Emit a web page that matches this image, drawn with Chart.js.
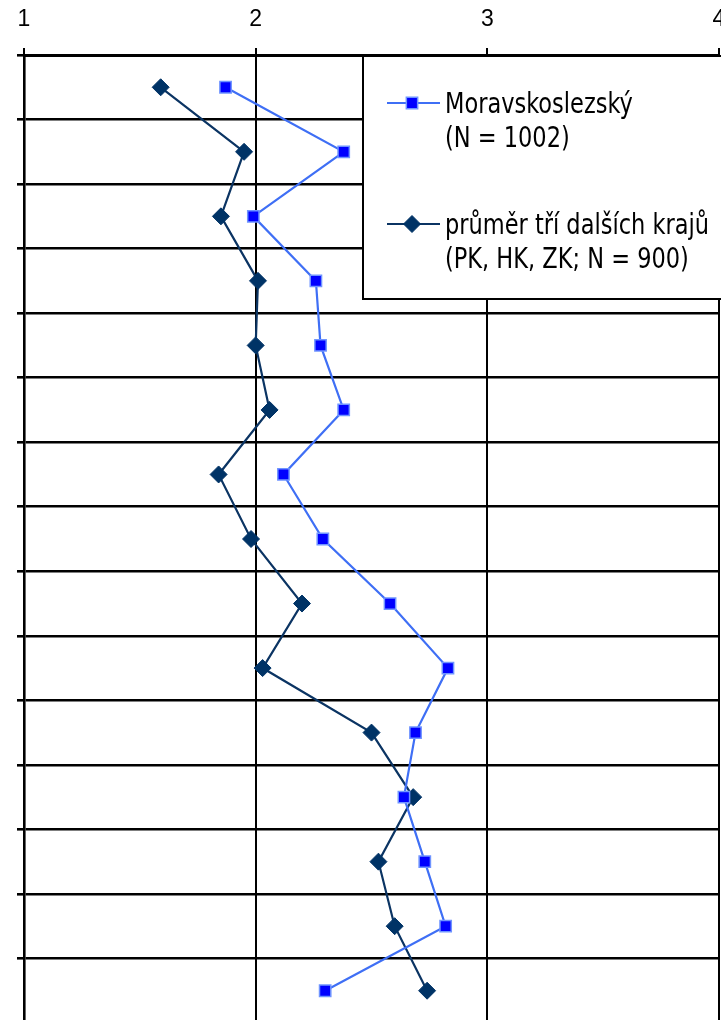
<!DOCTYPE html>
<html>
<head>
<meta charset="utf-8">
<title>Moravskoslezský vs. průměr</title>
<script src="https://cdn.jsdelivr.net/npm/chart.js@4/dist/chart.umd.min.js"></script>
<style>
  html, body { margin: 0; padding: 0; background: #fff; overflow: hidden; }
  #wrap { position: relative; width: 760px; height: 1040px; }
</style>
</head>
<body>
<div id="wrap"><canvas id="chart"></canvas></div>
<script>
  // rows of the chart (category labels are not shown in the picture)
  const rows = ["1", "2", "3", "4", "5", "6", "7", "8", "9", "10", "11", "12", "13", "14", "15"];
  const xTicks = [1, 2, 3, 4];

  const msValues = [1.87, 2.38, 1.99, 2.26, 2.28, 2.38, 2.12, 2.29, 2.58, 2.83, 2.69, 2.64, 2.73, 2.82, 2.30];
  const avgValues = [1.59, 1.95, 1.85, 2.01, 2.00, 2.06, 1.84, 1.98, 2.20, 2.03, 2.50, 2.68, 2.53, 2.60, 2.74];

  const msLabel = ["Moravskoslezský", "(N = 1002)"];
  const avgLabel = ["průměr tří dalších krajů", "(PK, HK, ZK; N = 900)"];

  const TICK_FONT = '"Liberation Sans", Arial, sans-serif';
  const LEGEND_FONT = '"DejaVu Sans Condensed", "DejaVu Sans", sans-serif';

  // legend drawn as a white box inside the plot, like the original
  const legendBox = {
    id: "legendBox",
    afterDraw(chart) {
      const ctx = chart.ctx;
      const area = chart.chartArea;
      const left = 363;
      const top = area.top + 1;
      const bottom = 299;
      ctx.save();
      ctx.fillStyle = "#fff";
      ctx.strokeStyle = "#000";
      ctx.lineWidth = 2;
      ctx.fillRect(left, top, chart.width - left + 10, bottom - top);
      ctx.strokeRect(left, top, chart.width - left + 10, bottom - top);

      const items = [
        { ds: chart.data.datasets[0], y: 103, base: 113 },
        { ds: chart.data.datasets[1], y: 224, base: 234 },
      ];
      const stretch = 1.14;
      items.forEach((it) => {
        const ds = it.ds;
        ctx.strokeStyle = ds.borderColor;
        ctx.lineWidth = ds.borderWidth;
        ctx.beginPath();
        ctx.moveTo(387, it.y);
        ctx.lineTo(440, it.y);
        ctx.stroke();
        ctx.fillStyle = ds.pointBackgroundColor;
        ctx.strokeStyle = ds.pointBorderColor;
        ctx.lineWidth = ds.pointBorderWidth;
        Chart.helpers.drawPoint(ctx, {
          pointStyle: ds.pointStyle,
          radius: ds.pointRadius,
          borderWidth: ds.pointBorderWidth,
          rotation: 0,
        }, 412, it.y);
        ctx.fillStyle = "#000";
        ctx.font = "25px " + LEGEND_FONT;
        ctx.textBaseline = "alphabetic";
        ctx.textAlign = "left";
        ds.label.forEach((line, i) => {
          ctx.save();
          ctx.translate(445, it.base + i * 34);
          ctx.scale(1, stretch);
          ctx.fillText(line, 0, 0);
          ctx.restore();
        });
      });
      ctx.restore();
    },
  };

  const ctx = document.getElementById("chart").getContext("2d");
  new Chart(ctx, {
    type: "line",
    data: {
      labels: rows,
      datasets: [
        {
          label: msLabel,
          data: msValues,
          borderColor: "#3f6ff5",
          borderWidth: 2.2,
          pointStyle: "rect",
          pointRadius: 8,
          pointBackgroundColor: "#0000ff",
          pointBorderColor: "#6f94ff",
          pointBorderWidth: 1.5,
          tension: 0,
        },
        {
          label: avgLabel,
          data: avgValues,
          borderColor: "#0b3463",
          borderWidth: 2.2,
          pointStyle: "rectRot",
          pointRadius: 8.5,
          pointBackgroundColor: "#003366",
          pointBorderColor: "#003366",
          pointBorderWidth: 1,
          tension: 0,
        },
      ],
    },
    options: {
      indexAxis: "y",
      responsive: true,
      maintainAspectRatio: false,
      animation: false,
      layout: { padding: { top: 0, right: 41, bottom: 17, left: 0 } },
      plugins: {
        legend: { display: false },
        tooltip: { enabled: false },
      },
      scales: {
        x: {
          type: "linear",
          position: "top",
          min: xTicks[0],
          max: xTicks[xTicks.length - 1],
          afterBuildTicks: (scale) => {
            scale.ticks = xTicks.map((v) => ({ value: v }));
          },
          ticks: { color: "#000", padding: 15, font: { family: TICK_FONT, size: 23 } },
          grid: { color: "#000", lineWidth: 2, tickLength: 7, tickColor: "#000" },
          border: { color: "#000", width: 3 },
          afterFit: (scale) => { scale.height = 55; },
        },
        y: {
          type: "category",
          offset: true,
          ticks: { display: false },
          grid: { offset: true, color: "#000", lineWidth: 2.6, tickLength: 7, tickColor: "#000" },
          border: { color: "#000", width: 2.6 },
          afterFit: (scale) => { scale.width = 24; },
        },
      },
    },
    plugins: [legendBox],
  });
</script>
</body>
</html>
